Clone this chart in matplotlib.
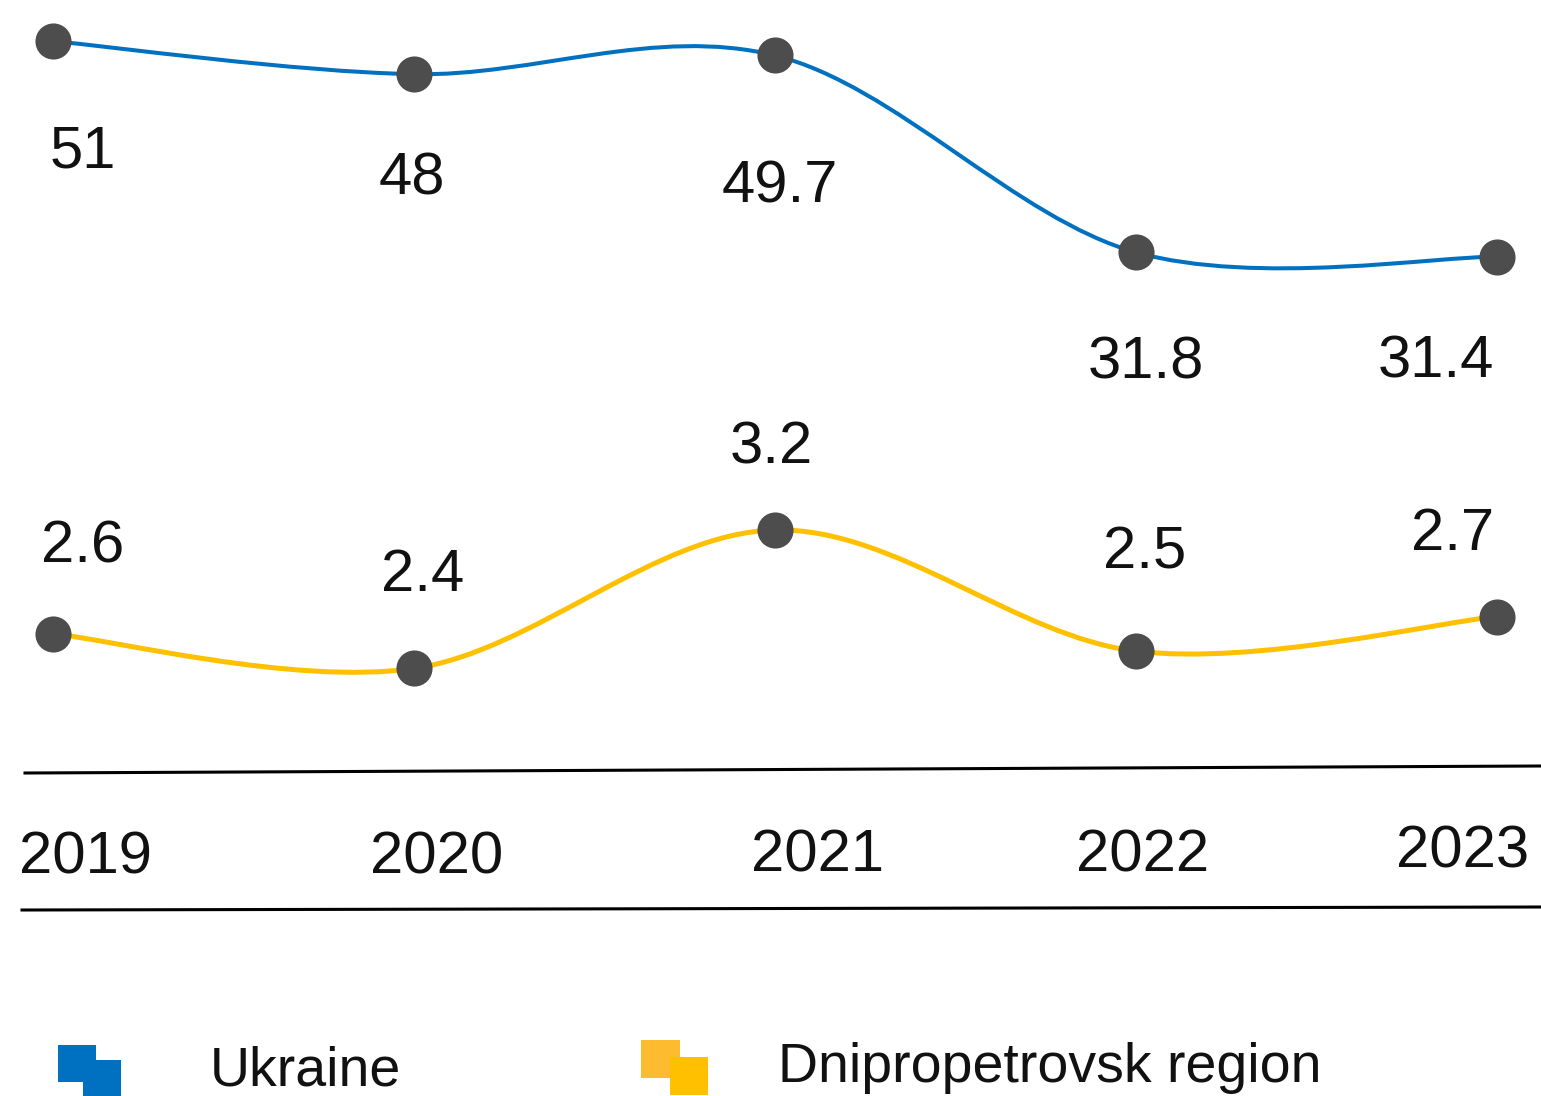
import matplotlib
matplotlib.use('Agg')
import matplotlib.pyplot as plt
import numpy as np
from matplotlib.path import Path
from matplotlib.patches import PathPatch, Rectangle
from matplotlib.lines import Line2D

# ---- data ----
years = [2019, 2020, 2021, 2022, 2023]
ukraine = [51, 48, 49.7, 31.8, 31.4]
dnipro = [2.6, 2.4, 3.2, 2.5, 2.7]
series_names = ['Ukraine', 'Dnipropetrovsk region']

# ---- style / layout ----
W, H = 1541, 1096
BLUE = '#0070C0'
YELLOW = '#FFC000'
YELLOW_LIGHT = '#FDBB30'
MARKER = '#4D4D4D'
FAM = ['Liberation Sans', 'DejaVu Sans']
plt.rcParams['font.family'] = FAM

fig = plt.figure(figsize=(W / 100, H / 100), dpi=100)


def fx(p):
    return p / W


def fy(p):
    return 1 - p / H


# x mapping: first year at px 53, step 361 px per year
x0_px, step_px = 53, 361
xlim = (years[0] - x0_px / step_px, years[0] + (W - x0_px) / step_px)


def make_axes(center_val, center_px, px_per_unit):
    ax = fig.add_axes([0, 0, 1, 1])
    ax.set_xlim(*xlim)
    top = center_val + center_px / px_per_unit
    bottom = center_val - (H - center_px) / px_per_unit
    ax.set_ylim(bottom, top)
    ax.axis('off')
    ax.patch.set_alpha(0)
    return ax


ax_u = make_axes(42.38, 136, 11.0)
ax_d = make_axes(2.68, 620, 173.0)


def smooth_path(x, y):
    pts = np.column_stack([x, y]).astype(float)
    n = len(pts)
    verts = [pts[0]]
    codes = [Path.MOVETO]
    for i in range(n - 1):
        p0 = pts[i - 1] if i > 0 else pts[i]
        p1 = pts[i]
        p2 = pts[i + 1]
        p3 = pts[i + 2] if i + 2 < n else pts[i + 1]
        c1 = p1 + (p2 - p0) / 6
        c2 = p2 - (p3 - p1) / 6
        verts += [c1, c2, p2]
        codes += [Path.CURVE4] * 3
    return Path(verts, codes)


def draw_series(ax, vals, color, lw, offsets):
    ax.add_patch(PathPatch(smooth_path(years, vals), facecolor='none',
                           edgecolor=color, lw=lw, capstyle='round', zorder=2))
    ax.plot(years, vals, 'o', ms=26, color=MARKER, mec='none', zorder=3)
    for yr, v, (dx, dy) in zip(years, vals, offsets):
        ax.annotate(f'{v:g}', xy=(yr, v), xytext=(dx, -dy),
                    textcoords='offset pixels', ha='center', va='baseline',
                    fontsize=43, color='#111111')


u_offsets = [(30, 126), (-2, 120), (5, 147), (10, 126), (-61, 121)]
d_offsets = [(30, -71), (9, -77), (-4, -67), (9, -83), (-44, -67)]
draw_series(ax_u, ukraine, BLUE, 2.9, u_offsets)
draw_series(ax_d, dnipro, YELLOW, 3.6, d_offsets)

# horizontal rules
fig.add_artist(Line2D([fx(25), fx(W)], [fy(773), fy(766)], color='black', lw=2.2))
fig.add_artist(Line2D([fx(22), fx(W)], [fy(910), fy(907)], color='black', lw=2.2))

# year labels
year_px = [(86, 873), (437, 873), (818, 872), (1143, 871), (1463, 867)]
for yr, (px, py) in zip(years, year_px):
    fig.text(fx(px), fy(py), str(yr), ha='center', va='baseline',
             fontsize=43, color='#111111')


# legend
def square(x1, y1, x2, y2, color):
    fig.add_artist(Rectangle((fx(x1), fy(y2)), (x2 - x1) / W, (y2 - y1) / H,
                             transform=fig.transFigure, facecolor=color,
                             edgecolor='none'))


square(58, 1045, 96, 1082, BLUE)
square(83, 1060, 121, 1096, BLUE)
square(641, 1040, 680, 1078, YELLOW_LIGHT)
square(670, 1057, 708, 1095, YELLOW)
fig.text(fx(210), fy(1086), series_names[0], ha='left', va='baseline',
         fontsize=40, color='#111111')
fig.text(fx(778), fy(1082), series_names[1], ha='left', va='baseline',
         fontsize=40, color='#111111')

fig.savefig('out.png', dpi=100, facecolor='white')
